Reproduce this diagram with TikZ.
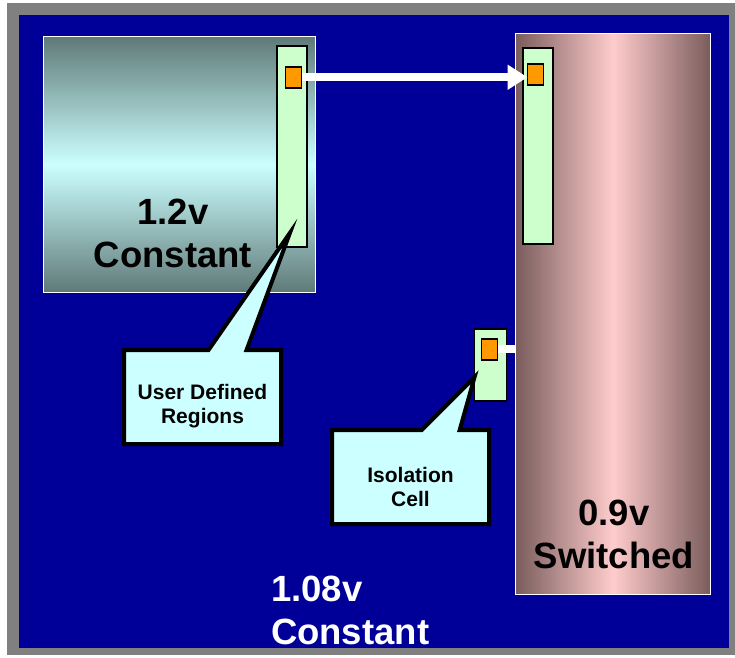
\documentclass[tikz,border=0pt]{standalone}
\usepackage{fontspec}
\setmainfont{Liberation Sans}
\definecolor{chipblue}{RGB}{0,0,153}
\definecolor{framegray}{RGB}{128,128,128}
\definecolor{tealdark}{RGB}{95,122,120}
\definecolor{tealpale}{RGB}{204,255,255}
\definecolor{rosedark}{RGB}{122,92,92}
\definecolor{rosepale}{RGB}{255,204,204}
\definecolor{udrgreen}{RGB}{204,255,204}
\definecolor{portorange}{RGB}{255,153,0}
\usetikzlibrary{positioning, arrows.meta, shapes.callouts}

\begin{document}
\begin{tikzpicture}[x=1pt, y=-1pt,
                    every node/.style = {inner sep=0pt, outer sep=0pt},
                    vdomain/.style = {draw=white, line width=1pt, anchor=north west},
                    udr/.style = {draw=black, fill=udrgreen, line width=1.5pt, minimum width=30pt, anchor=north},
                    port/.style = {draw=black, fill=portorange, line width=1.5pt, minimum width=16pt, minimum height=21pt},
                    note/.style = {rectangle callout, draw=black, fill=tealpale, line width=4pt,
                                   minimum width=157pt, minimum height=94pt, callout pointer width=38pt,
                                   align=center, text depth=0pt, font=\fontsize{21}{24}\selectfont\bfseries},
                    big/.style = {font=\fontsize{36.5}{43}\selectfont\bfseries, text depth=0pt, anchor=south},
                    wire/.style = {draw=white, line width=8pt}]
                \useasboundingbox (0,0) rectangle (735,657);
                \fill[framegray] (7,3) rectangle (735,655);
                \fill[chipblue] (19,15) rectangle (729,648);
                \node (hv) [vdomain, top color=tealdark, bottom color=tealdark, middle color=tealpale,
                            minimum width=272pt, minimum height=256pt] at (43.5,36.5) {};
                \node (sw) [vdomain, left color=rosedark, right color=rosedark, middle color=rosepale,
                            minimum width=195pt, minimum height=561pt] at (515.5,33.5) {};
                \node (hvudr) [udr, minimum height=201pt] at (292,45.75) {};
                \node (swudr) [udr, minimum height=196pt] at (538,47.75) {};
                \node (iso)   [udr, minimum height=72pt, minimum width=32pt] at (490.5,328.75) {};
                \node (hvport)  [port, below=21pt of hvudr.north, xshift=1.5pt] {};
                \node (swport)  [port, below=16pt of swudr.north, xshift=-2.5pt] {};
                \node (isoport) [port, below=10pt of iso.north, xshift=-1pt] {};
                \node (udrnote) [note, text height=52pt, callout absolute pointer={([xshift=-2pt, yshift=14pt]hvudr.south)}]
                                at (202.5,397) {User Defined\\Regions};
                \node (isonote) [note, text height=58pt, callout absolute pointer={([yshift=-12.5pt]iso.west)}]
                                at (410.5,477) {Isolation\\Cell};
                \draw [wire, -{Triangle[length=20pt, width=24pt]}] (hvport.east) -- (hvport.east -| swport.west);
                \draw [wire] (isoport.east) -- (isoport.east -| sw.west);
                \node (hvlbl)  [big, align=center] at (173,267) {1.2v\\Constant};
                \node (swlbl)  [big, align=center] at (614,568) {0.9v\\Switched};
                \node (toplbl) [big, align=left, text=white, anchor=south west] at (271,644) {1.08v\\Constant};
            \end{tikzpicture}
\end{document}
